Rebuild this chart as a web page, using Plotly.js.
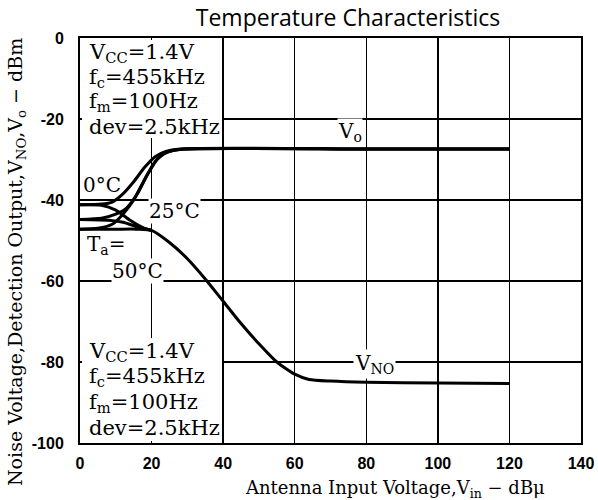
<!DOCTYPE html>
<html>
<head>
<meta charset="utf-8">
<script src="https://cdn.plot.ly/plotly-3.0.1.min.js"></script>
<style>html,body{margin:0;padding:0;background:#fff;}#chart{width:598px;height:500px;}</style>
</head>
<body>
<div id="chart"></div>
<script>
// Detection output V_o (dBm) vs antenna input (dBμ)
const vo0C_x = [0, 6, 9, 12, 15, 18, 21, 24, 28, 80, 120];
const vo0C_y = [-41.2, -41, -40.5, -38.5, -35.5, -32, -29.3, -28, -27.4, -27.4, -27.4];
const vo25C_x = [0, 6, 10, 13, 16, 19, 22, 25, 29, 80, 120];
const vo25C_y = [-44.8, -44.5, -43.5, -42, -38.5, -33.5, -29.5, -28, -27.4, -27.4, -27.4];
const vo50C_x = [0, 5, 9, 12, 15, 18, 21, 24, 29, 80, 120];
const vo50C_y = [-47.2, -47, -46, -43.5, -40, -35, -30.5, -28.3, -27.4, -27.4, -27.4];

// Noise voltage V_NO (dBm)
const vno0C_x = [0, 6, 10, 14, 18, 20];
const vno0C_y = [-41.2, -41.3, -42.5, -45, -47, -47.5];
const vno25C_x = [0, 8, 12, 16, 20];
const vno25C_y = [-44.8, -45, -45.5, -46.6, -47.5];
const vno50C_x = [0, 10, 16, 20, 25, 30, 35, 40, 45, 50, 55, 60, 64, 70, 80, 100, 120];
const vno50C_y = [-47.2, -47.2, -47.2, -47.5, -50.5, -54.5, -59.5, -65, -70.5, -75.5, -80, -83, -84.3, -84.7, -85, -85.2, -85.3];

const xTicks = [0, 20, 40, 60, 80, 100, 120, 140];
const yTicks = [0, -20, -40, -60, -80, -100];
const condLines = ['V<sub>CC</sub>=1.4V', 'f<sub>c</sub>=455kHz', 'f<sub>m</sub>=100Hz', 'dev=2.5kHz'];

const lineStyle = {color: '#000', width: 3, shape: 'spline', smoothing: 0.6};
const mk = (x, y) => ({x: x, y: y, type: 'scatter', mode: 'lines', line: lineStyle, hoverinfo: 'skip', showlegend: false});

const traces = [
  mk(vo0C_x, vo0C_y), mk(vo25C_x, vo25C_y), mk(vo50C_x, vo50C_y),
  mk(vno0C_x, vno0C_y), mk(vno25C_x, vno25C_y), mk(vno50C_x, vno50C_y)
];

const serif = 'DejaVu Serif, Liberation Serif, serif';
const sfont = (s) => ({family: serif, size: s, color: '#000'});

// plot area: 501 x 405 px
const PW = 501, PH = 405;
const annotations = [];
condLines.forEach((t, i) => {
  annotations.push({xref: 'paper', yref: 'paper', x: 7 / PW, y: 1 - (15 + 24.5 * i) / PH, xanchor: 'left', yanchor: 'middle',
    text: t, showarrow: false, font: sfont(21)});
  annotations.push({xref: 'paper', yref: 'paper', x: 7 / PW, y: (91 - 25.3 * i) / PH, xanchor: 'left', yanchor: 'middle',
    text: t, showarrow: false, font: sfont(21)});
});
annotations.push(
  {xref: 'x', yref: 'y', x: 75.4, y: -23.2, text: 'V<sub>o</sub>', showarrow: false, bgcolor: '#fff', borderpad: 0, font: sfont(20)},
  {xref: 'x', yref: 'y', x: 82.4, y: -80.5, text: 'V<sub>NO</sub>', showarrow: false, bgcolor: '#fff', borderpad: 1, font: sfont(20)},
  {xref: 'x', yref: 'y', x: 6.2, y: -36.3, text: '0°C', showarrow: false, font: sfont(20)},
  {xref: 'x', yref: 'y', x: 26.5, y: -42.6, text: '25°C', showarrow: false, bgcolor: '#fff', borderpad: 0, font: sfont(20)},
  {xref: 'x', yref: 'y', x: 7.4, y: -51.2, text: 'T<sub>a</sub>=', showarrow: false, bgcolor: '#fff', borderpad: 0, font: sfont(20)},
  {xref: 'x', yref: 'y', x: 16.2, y: -57.5, text: '50°C', showarrow: false, bgcolor: '#fff', borderpad: 0, font: sfont(20)},
  {xref: 'paper', yref: 'paper', x: (395 - 80) / PW, y: (443 - 489) / PH, xanchor: 'center', yanchor: 'middle',
   text: 'Antenna Input Voltage,V<sub>in</sub> − dBμ', showarrow: false, font: sfont(18)},
  {xref: 'paper', yref: 'paper', x: (16 - 80) / PW, y: (443 - 262) / PH, xanchor: 'center', yanchor: 'middle', textangle: -90,
   text: 'Noise Voltage,Detection Output,V<sub>NO</sub>,V<sub>o</sub> − dBm', showarrow: false, font: sfont(19)}
);

const tickFont = {family: 'Liberation Sans, Arial, sans-serif', size: 16, color: '#000', weight: 'bold'};

const layout = {
  width: 598, height: 500,
  margin: {l: 80, r: 17, t: 38, b: 57},
  paper_bgcolor: '#fff', plot_bgcolor: '#fff',
  title: {text: 'Temperature Characteristics', font: {family: 'Open Sans, Noto Sans, sans-serif', size: 23, color: '#000'}, x: 0.582, xanchor: 'center', y: 0.964, yanchor: 'middle'},
  xaxis: {
    range: [0, 140], tickvals: xTicks, ticktext: xTicks.map(String),
    showgrid: true, gridcolor: '#000', gridwidth: 1.5,
    zeroline: false, showline: true, linecolor: '#000', linewidth: 2, mirror: true,
    ticks: '', ticklabelstandoff: 5, tickfont: tickFont
  },
  yaxis: {
    range: [-100, 0], tickvals: yTicks, ticktext: yTicks.map(v => v === 0 ? '0' : '-' + Math.abs(v)),
    showgrid: true, gridcolor: '#000', gridwidth: 1.5,
    zeroline: false, showline: true, linecolor: '#000', linewidth: 2, mirror: true,
    ticks: '', ticklabelstandoff: 11, tickfont: tickFont
  },
  shapes: [
    {type: 'rect', xref: 'paper', yref: 'paper', layer: 'above', x0: 2 / PW, x1: 142 / PW, y0: 1 - 100 / PH, y1: 1 - 2 / PH,
     fillcolor: '#fff', line: {width: 0}},
    {type: 'rect', xref: 'paper', yref: 'paper', layer: 'above', x0: 2 / PW, x1: 142 / PW, y0: 2 / PH, y1: 105 / PH,
     fillcolor: '#fff', line: {width: 0}}
  ],
  annotations: annotations
};

Plotly.newPlot('chart', traces, layout, {displayModeBar: false, staticPlot: true});
</script>
</body>
</html>
